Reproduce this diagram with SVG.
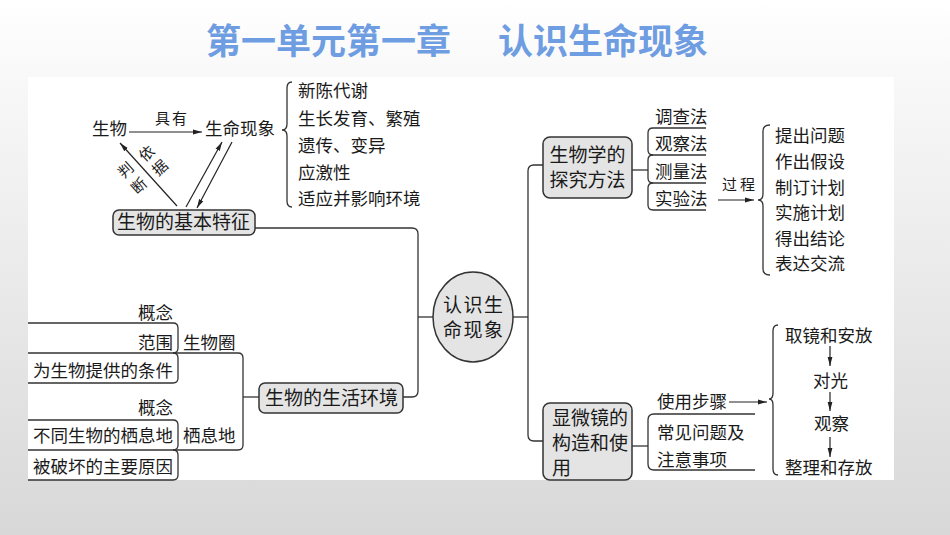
<svg xmlns="http://www.w3.org/2000/svg" width="950" height="535" viewBox="0 0 950 535">
<defs>
<linearGradient id="bg" x1="0" y1="0" x2="0" y2="1">
<stop offset="0" stop-color="#ffffff"/>
<stop offset="0.15" stop-color="#f8f8f8"/>
<stop offset="1" stop-color="#d8d8d8"/>
</linearGradient>
<marker id="arr" markerUnits="userSpaceOnUse" markerWidth="9" markerHeight="6" refX="9" refY="3" orient="auto">
<path d="M0,0.6 L9,3 L0,5.4 z" fill="#222"/>
</marker>
</defs>
<style>
text{font-family:"Noto Sans CJK SC","Noto Sans CJK JP",sans-serif;fill:#1a1a1a;}
.t{font-size:17.5px;}
.n{font-size:19px;}
.s{font-size:15px;}
.title{font-size:35px;font-weight:bold;fill:#6e9de2;}
.ln{fill:none;stroke:#333;stroke-width:1.3;}
.ar{fill:none;stroke:#222;stroke-width:1.2;marker-end:url(#arr);}
.box{fill:#e4e4e4;stroke:#333;stroke-width:1.5;}
</style>
<rect x="0" y="0" width="950" height="535" fill="url(#bg)"/>
<rect x="28" y="77" width="866" height="403" fill="#ffffff"/>
<g id="title">
<text class="title" x="206" y="54">第一单元第一章</text>
<text class="title" x="498" y="54">认识生命现象</text>
</g>

<g id="connectors">
<line class="ar" x1="129" y1="132" x2="202" y2="132"/>
<line class="ar" x1="177" y1="206" x2="120" y2="143"/>
<line class="ar" x1="186" y1="207" x2="222" y2="142"/>
<line class="ar" x1="232" y1="142" x2="197" y2="208"/>
<path class="ln" d="M292,82 Q287,82 287,88 V124 Q287,130 282,130 Q287,130 287,136 V201 Q287,207 292,207"/>
<path class="ln" d="M255,228 H412 Q418,228 418,234 V391 Q418,397 412,397 H403"/>
<path class="ln" d="M418,317 H433"/>
<path class="ln" d="M513,317 H528"/>
<path class="ln" d="M543,165 H534 Q528,165 528,171 V435 Q528,441 534,441 H543"/>
<path class="ln" d="M632,170 H648"/>
<path class="ln" d="M706,128 H653 Q648,128 648,133 V150 Q648,155 653,155 H706"/>
<path class="ln" d="M653,155 Q648,155 648,160 V178 Q648,183 653,183 H706"/>
<path class="ln" d="M653,183 Q648,183 648,188 V205 Q648,210 653,210 H706"/>
<line class="ar" x1="718" y1="200" x2="754" y2="200"/>
<path class="ln" d="M770,125 Q763,125 763,131 V194 Q763,200 758,200 Q763,200 763,206 V269 Q763,275 770,275"/>
<path class="ln" d="M632,446 H648"/>
<path class="ln" d="M755,414 H654 Q648,414 648,420 V464 Q648,470 654,470 H755"/>
<line class="ar" x1="729" y1="402" x2="767" y2="402"/>
<path class="ln" d="M778,325 Q773,325 773,331 V393 Q773,399 769,399 Q773,399 773,405 V469 Q773,475 778,475"/>
<line class="ar" x1="830" y1="346" x2="830" y2="366"/>
<line class="ar" x1="830" y1="392" x2="830" y2="411"/>
<line class="ar" x1="830" y1="437" x2="830" y2="457"/>
<path class="ln" d="M28,323 H173 Q178,323 178,328 V348 Q178,353 173,353"/>
<path class="ln" d="M173,353 Q178,353 178,358 V378 Q178,383 173,383 H28"/>
<path class="ln" d="M28,353 H238 Q243,353 243,358 V445 Q243,450 238,450 H28"/>
<path class="ln" d="M243,397 H259"/>
<path class="ln" d="M28,420 H173 Q178,420 178,425 V445 Q178,450 173,450"/>
<path class="ln" d="M173,450 Q178,450 178,455 V475 Q178,480 173,480 H28"/>
</g>

<g id="shengwu"><text class="t" x="92" y="135">生物</text></g>
<g id="juyou"><text class="s" x="155" y="123.5" letter-spacing="2">具有</text></g>
<g id="shengmingxianxiang"><text class="t" x="205" y="135">生命现象</text></g>
<g id="panduan">
<text class="s" x="125.7" y="175.5" text-anchor="middle" transform="rotate(-42 125.7 170)">判</text>
<text class="s" x="139" y="191.2" text-anchor="middle" transform="rotate(-42 139 185.7)">断</text>
<text class="s" x="146.7" y="158.8" text-anchor="middle" transform="rotate(-42 146.7 153.3)">依</text>
<text class="s" x="160" y="173.2" text-anchor="middle" transform="rotate(-42 160 167.7)">据</text>
</g>
<g id="features-list">
<text class="t" x="298" y="97">新陈代谢</text>
<text class="t" x="298" y="124.5">生长发育、繁殖</text>
<text class="t" x="298" y="151.5">遗传、变异</text>
<text class="t" x="298" y="178.5">应激性</text>
<text class="t" x="298" y="205">适应并影响环境</text>
</g>
<g id="node-jibentezheng">
<rect class="box" x="113" y="210" width="142" height="25" rx="6"/>
<text class="n" x="117" y="229">生物的基本特征</text>
</g>
<g id="node-center">
<ellipse class="box" cx="473" cy="317" rx="40" ry="45"/>
<text class="n" text-anchor="middle" font-size="17.5" letter-spacing="1.5"><tspan x="473.7" y="311.5">认识生</tspan><tspan x="473.7" y="337">命现象</tspan></text>
</g>
<g id="node-tanjiu">
<rect class="box" x="543" y="137" width="89" height="61" rx="7"/>
<text class="n" text-anchor="middle" font-size="18.5"><tspan x="587.5" y="162">生物学的</tspan><tspan x="587.5" y="187">探究方法</tspan></text>
</g>
<g id="methods">
<text class="t" x="655" y="122.5">调查法</text>
<text class="t" x="655" y="149.5">观察法</text>
<text class="t" x="655" y="177.5">测量法</text>
<text class="t" x="655" y="205">实验法</text>
</g>
<g id="guocheng"><text class="s" x="722" y="189.5" letter-spacing="3">过程</text></g>
<g id="process-list">
<text class="t" x="775" y="141.5">提出问题</text>
<text class="t" x="775" y="168">作出假设</text>
<text class="t" x="775" y="193.5">制订计划</text>
<text class="t" x="775" y="219">实施计划</text>
<text class="t" x="775" y="244.5">得出结论</text>
<text class="t" x="775" y="270">表达交流</text>
</g>
<g id="node-xianweijing">
<rect class="box" x="543" y="403" width="89" height="77" rx="7"/>
<text class="n" font-size="18.5"><tspan x="552" y="425">显微镜的</tspan><tspan x="552" y="450">构造和使</tspan><tspan x="552" y="474.5">用</tspan></text>
</g>
<g id="shiyongbuzhou"><text class="t" x="657" y="408">使用步骤</text></g>
<g id="changjianwenti">
<text class="t"><tspan x="657" y="439">常见问题及</tspan><tspan x="657" y="465.5">注意事项</tspan></text>
</g>
<g id="steps">
<text class="t" x="785" y="341.5">取镜和安放</text>
<text class="t" x="830.5" y="386.5" text-anchor="middle">对光</text>
<text class="t" x="831.5" y="429.5" text-anchor="middle">观察</text>
<text class="t" x="785" y="473.5">整理和存放</text>
</g>
<g id="shengwuquan-group">
<text class="t" x="173" y="318.5" text-anchor="end">概念</text>
<text class="t" x="173" y="348.5" text-anchor="end">范围</text>
<text class="t" x="173" y="376.5" text-anchor="end">为生物提供的条件</text>
<text class="t" x="183" y="348.5">生物圈</text>
</g>
<g id="qixidi-group">
<text class="t" x="173" y="413.5" text-anchor="end">概念</text>
<text class="t" x="173" y="442" text-anchor="end">不同生物的栖息地</text>
<text class="t" x="173" y="473" text-anchor="end">被破坏的主要原因</text>
<text class="t" x="183" y="442">栖息地</text>
</g>
<g id="node-huanjing">
<rect class="box" x="259" y="383" width="144" height="30" rx="6"/>
<text class="n" x="265" y="404.5">生物的生活环境</text>
</g>
</svg>
